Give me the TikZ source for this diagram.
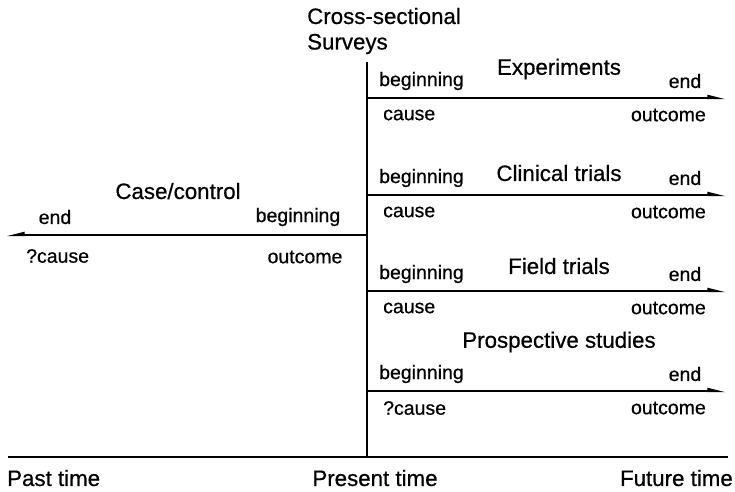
\documentclass[tikz,border=0pt]{standalone}
\usepackage{fontspec}
\setmainfont{Liberation Sans}[FakeBold=0.6,AutoFakeBold=0.6]
\usetikzlibrary{arrows.meta}
\begin{document}
\begin{tikzpicture}[x=1pt,y=-1pt,
  lbl/.style={inner sep=0pt,font=\fontsize{19.5}{23}\bfseries},
  ttl/.style={inner sep=0pt,font=\fontsize{22.3}{26}\bfseries},
  axis/.style={line width=2pt},
  tline/.style={line width=2pt,-{Triangle[harpoon,length=14pt,width=6pt]}},
  tlineL/.style={line width=2pt,-{Triangle[harpoon,swap,length=14pt,width=6pt]}}]
\useasboundingbox (0,0) rectangle (735,491);
% axes
\coordinate (vtop) at (367,62);
\coordinate (vbot) at (367,457);
\coordinate (hl) at (8,457);
\coordinate (hr) at (728,457);
\draw[axis] (hl) -- (hr);
\draw[axis] (vtop) -- (vbot);
\node[ttl,anchor=west] (past) at (7,478) {Past time};
\node[ttl] (present) at (375,478) {Present time};
\node[ttl,anchor=east] (future) at (733,478) {Future time};
% cross-sectional
\node[ttl,anchor=west] (cs1) at (307,16) {Cross-sectional};
\node[ttl,anchor=west] (cs2) at (307,44) {Surveys};
% right arrows
\foreach \n/\y/\t/\ty/\c in {ex/98/Experiments/69/cause, cl/195/Clinical trials/173/cause, fi/291/Field trials/266/cause, pr/391/Prospective studies/342/?cause}{
  \coordinate (\n s) at (367,\y);
  \coordinate (\n e) at (726,\y);
  \draw[tline] (\n s) -- (\n e);
  \node[ttl] (\n t) at (559,\ty) {\t};
  \node[lbl,anchor=west] (\n b) at (379,\y-17) {beginning};
  \node[lbl] (\n d) at (685,\y-17) {end};
  \node[lbl,anchor=west] (\n c) at (383,\y+17) {\c};
  \node[lbl,anchor=east] (\n o) at (706,\y+17) {outcome};
}
% case/control
\coordinate (ccs) at (367,235);
\coordinate (cce) at (6,235);
\draw[tlineL] (ccs) -- (cce);
\node[ttl] (cct) at (178,191) {Case/control};
\node[lbl] (ccd) at (55,217) {end};
\node[lbl] (ccb) at (298,217) {beginning};
\node[lbl,anchor=west] (ccc) at (26,256) {?cause};
\node[lbl] (cco) at (305,257) {outcome};
\end{tikzpicture}
\end{document}
